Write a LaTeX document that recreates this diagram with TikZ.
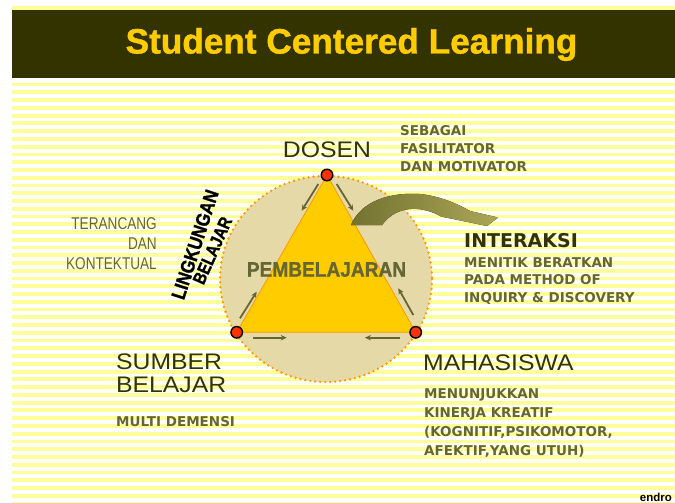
\documentclass[tikz,border=0pt]{standalone}
\usepackage{fontspec}
\setmainfont{Liberation Sans}
\newfontfamily\comicf{DejaVu Sans}
\newfontfamily\narrowf{Liberation Sans}[FakeStretch=0.8]
\newfontfamily\widef{Liberation Sans}[FakeStretch=1.1]
\newfontfamily\heavyf{Liberation Sans Bold}[FakeBold=1.2]
\usetikzlibrary{arrows.meta}
\definecolor{band}{HTML}{333300}
\definecolor{titleyel}{HTML}{FFCC00}
\definecolor{stripe}{HTML}{FFFF99}
\definecolor{olive}{HTML}{666633}
\definecolor{darkol}{HTML}{333300}
\definecolor{beige}{HTML}{E6D9A8}
\definecolor{dotor}{HTML}{FF9900}
\definecolor{tri}{HTML}{FFCC00}
\definecolor{reddot}{HTML}{FF3300}
\definecolor{arrdark}{HTML}{737330}
\definecolor{arrlight}{HTML}{ABA657}
\begin{document}
\begin{tikzpicture}[x=1pt,y=-1pt,
  comic/.style={font=\comicf\bfseries\fontsize{13.5}{18}\selectfont, text=olive, align=left, inner sep=0pt},
  bigl/.style={font=\widef\fontsize{22.5}{23}\selectfont, text=darkol, inner sep=0pt},
  narrowtxt/.style={font=\narrowf\fontsize{17}{20}\selectfont, text=olive, align=right, inner sep=0pt},
  smarr/.style={draw=olive, line width=1.8pt, -{Stealth[length=6pt,width=5.5pt]}},
  vdot/.style={circle, minimum size=11.5pt, inner sep=0pt, fill=reddot, draw=black, line width=1.4pt},
  arcword/.style={text=black, inner sep=0pt, anchor=center}]
\useasboundingbox (0,0) rectangle (675,503);
\clip (0,0) rectangle (675,503);
\fill[white] (0,0) rectangle (675,503);
% stripes
\fill[stripe] (12,6.5) rectangle (675,10);
\foreach \k in {0,...,54}{
  \fill[stripe] (12,82.7+\k*7.757) rectangle (675,86.5+\k*7.757);
}
% title band
\fill[band] (12,10) rectangle (675,78);
\node[font=\heavyf\fontsize{35.2}{40}\selectfont, text=titleyel, anchor=base, inner sep=0pt] (title) at (351.5,53.5) {Student Centered Learning};
% circle
\fill[beige] (326,279) ellipse [x radius=106, y radius=103];
\draw[dotor, line width=2.6pt, dash pattern=on 0pt off 5pt, line cap=round] (326,279) ellipse [x radius=106, y radius=103];
% triangle
\coordinate (top) at (327,175);
\coordinate (bl) at (236.7,332.3);
\coordinate (br) at (415.7,332.3);
\filldraw[fill=tri, draw=dotor, line width=0.8pt] (top) -- (br) -- (bl) -- cycle;
\node[text=olive, anchor=base, inner sep=0pt] (pemb) at (326.5,276.7) {\scalebox{0.91}[1]{\heavyf\fontsize{21}{24}\selectfont PEMBELAJARAN}};
% small arrows
\draw[smarr] (318.3,184) -- (301.7,210.7);
\draw[smarr] (336.7,184) -- (353.3,210.7);
\draw[smarr] (240,318.3) -- (256.7,291.7);
\draw[smarr] (413.3,315) -- (398.3,288.3);
\draw[smarr] (253.3,337.7) -- (286.7,337.7);
\draw[smarr] (400,337.7) -- (365,337.7);
% vertex dots
\node[vdot] (dosenpt) at (top) {};
\node[vdot] (sumberpt) at (bl) {};
\node[vdot] (mhspt) at (br) {};
% curved arrow
\fill[left color=arrdark, right color=arrlight] (351,225) .. controls (361,201) and (390,192) .. (420,194) .. controls (440,196) and (458,204) .. (470,211) -- (498,217.5) -- (487,226) -- (441,216.5) .. controls (425,207) and (398,203) .. (382,225) -- cycle;
% lingkungan belajar
\node[arcword, rotate=72] (lingk) at (195,244.5) {\scalebox{0.86}[1]{\heavyf\fontsize{19.5}{20}\selectfont LINGKUNGAN}};
\node[arcword, rotate=66] (belajar1) at (212.5,250.5) {\scalebox{0.84}[1]{\heavyf\fontsize{18}{18}\selectfont BELAJAR}};
% labels
\node[bigl, anchor=base] (dosen) at (327,157) {DOSEN};
\node[comic, anchor=north west] (sebagai) at (400,125) {SEBAGAI\\FASILITATOR\\DAN MOTIVATOR};
\node[comic, font=\comicf\bfseries\fontsize{19}{20}\selectfont, text=darkol, anchor=base west] (interaksi) at (464,247) {INTERAKSI};
\node[comic, anchor=north west, font=\comicf\bfseries\fontsize{13.5}{17.5}\selectfont] (menitik) at (464,257) {MENITIK BERATKAN\\PADA METHOD OF\\INQUIRY \& DISCOVERY};
\node[narrowtxt, anchor=north east] (terancang) at (157,217) {TERANCANG\\DAN\\KONTEKTUAL};
\node[bigl, anchor=north west, align=left] (sumber) at (116,354) {SUMBER\\BELAJAR};
\node[comic, anchor=base west] (multi) at (116,426) {MULTI DEMENSI};
\node[bigl, anchor=base west] (mhs) at (423,370) {MAHASISWA};
\node[comic, anchor=north west, font=\comicf\bfseries\fontsize{13.5}{19}\selectfont] (menunj) at (424,388) {MENUNJUKKAN\\KINERJA KREATIF\\(KOGNITIF,PSIKOMOTOR,\\AFEKTIF,YANG UTUH)};
\node[font=\bfseries\fontsize{11.5}{12}\selectfont, text=black, anchor=base east, inner sep=0pt] (endro) at (672,501) {endro};
\end{tikzpicture}
\end{document}
